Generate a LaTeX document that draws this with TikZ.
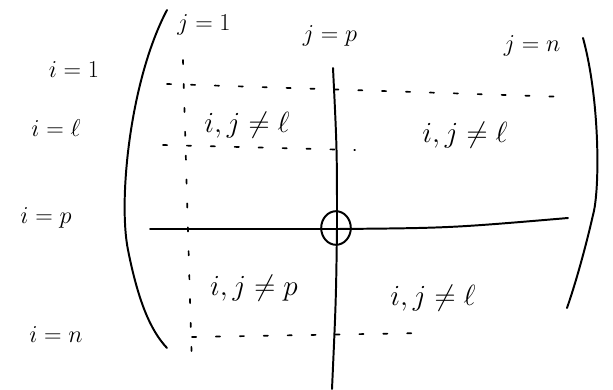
\documentclass[tikz,border=0pt]{standalone}
\usepackage{tikz}
\usetikzlibrary{shapes.geometric}

\tikzset{
  lbl/.style={inner sep=1pt, font=\LARGE},
  blk/.style={inner sep=1pt, font=\huge},
  pen/.style={black, line width=1.4pt, line cap=round},
  guide/.style={black, line width=1.2pt, dash pattern=on 3pt off 14pt, line cap=round}
}

\begin{document}
\begin{tikzpicture}[x=0.025cm, y=-0.025cm]

  % frame of the sketch
  \useasboundingbox (0,0) rectangle (613,389);

  % --- row and column labels ---
  \node[lbl] (r1) at (74,70)  {$i=1$};
  \node[lbl] (rl) at (56,128) {$i=\ell$};
  \node[lbl] (rp) at (46,218) {$i=p$};
  \node[lbl] (rn) at (56,335) {$i=n$};

  \node[lbl] (c1) at (204,25) {$j=1$};
  \node[lbl] (cp) at (330,36) {$j=p$};
  \node[lbl] (cn) at (532,46) {$j=n$};

  % Brackets of the matrix
  \draw[pen] (167,10) .. controls (130,80) and (118,200) .. (128,250)
             .. controls (138,300) and (150,330) .. (167,348);
  \draw[pen] (583,38) .. controls (600,100) and (600,190) .. (593,215)
             .. controls (585,250) and (575,285) .. (567,308);

  % Dotted guide lines (row 1, row l, row n, column 1)
  \draw[guide] (183,60) -- (192,368);
  \draw[guide] (167,84) -- (567,97);
  \draw[guide] (163,145) -- (355,150);
  \draw[guide] (192,337) -- (425,333);

  % Cross through entry (p,p)
  \draw[pen] (333,68) .. controls (337,150) .. (337,228) .. controls (336,300) .. (332,389);
  \draw[pen] (150,229) -- (337,229) .. controls (450,228) .. (568,218);
  \node[draw, pen, ellipse, inner sep=0pt,
        minimum width=0.74cm, minimum height=0.84cm] (pp) at (336,228) {};

  % --- blocks ---
  \node[blk] (b11) at (247,125) {$i,j\neq\ell$};
  \node[blk] (b12) at (465,135) {$i,j\neq\ell$};
  \node[blk] (b21) at (254,288) {$i,j\neq p$};
  \node[blk] (b22) at (433,298) {$i,j\neq\ell$};

\end{tikzpicture}
\end{document}
